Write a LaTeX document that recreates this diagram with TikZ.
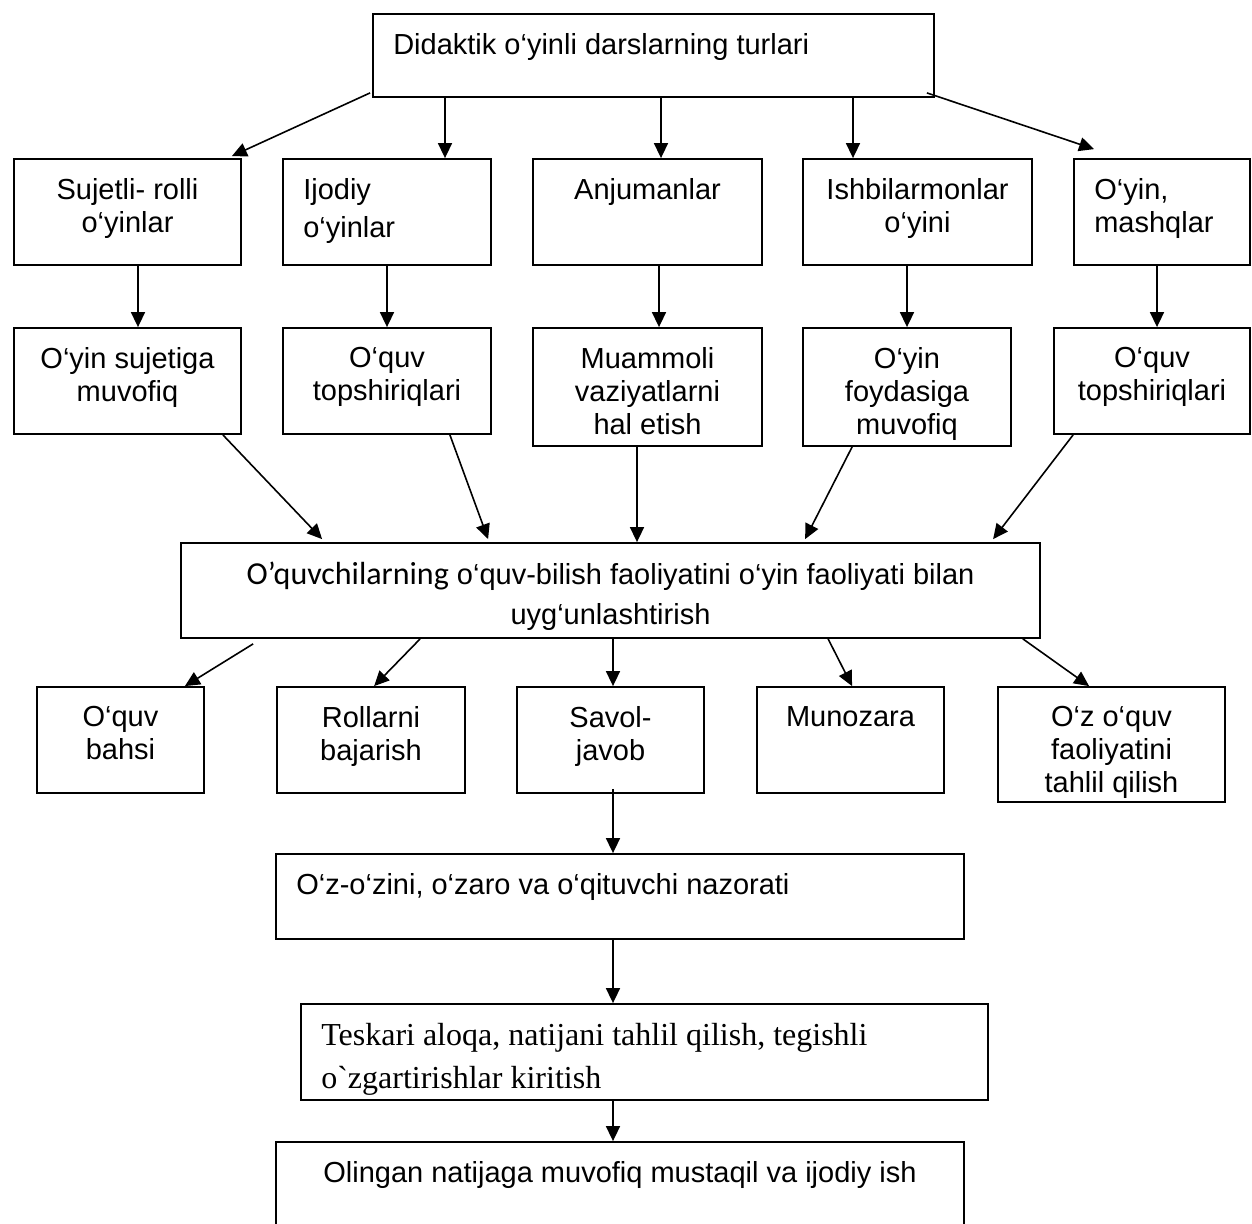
\documentclass[tikz,border=0pt]{standalone}
\usepackage{fontspec}
\setmainfont{Liberation Sans}
\newfontfamily\timesfont{Liberation Serif}[Ligatures=TeXOff]
\newfontfamily\calfont{Carlito}
\usetikzlibrary{arrows.meta,positioning}

\tikzset{
  box/.style={draw, line width=1.8pt, inner sep=0pt},
  arr/.style={-{Triangle[length=15pt,width=14pt]}, line width=1.6pt},
  ct/.style={anchor=north, align=center, inner sep=0pt, yshift=-20pt},
  lt/.style={anchor=north west, align=left, inner sep=0pt, xshift=21pt, yshift=-20pt},
}

\begin{document}
\begin{tikzpicture}[x=1pt, y=-1pt, font=\fontsize{29}{33}\selectfont]
    \useasboundingbox (0,0) rectangle (1252,1223);

    % top
    \node[box, minimum width=561pt, minimum height=83pt, label={[lt]north west:Didaktik o‘yinli darslarning turlari}] (root) at (653.5,55.5) {};

    % types of lessons
    \node[box, minimum width=227pt, minimum height=106pt, label={[ct]north:{Sujetli- rolli\\o‘yinlar}}] (t1) at (127.5,212) {};
    \node[box, minimum width=208pt, minimum height=106pt, label={[lt]north west:{Ijodiy\\[5pt]o‘yinlar}}] (t2) at (387,212) {};
    \node[box, minimum width=229pt, minimum height=106pt, label={[ct]north:Anjumanlar}] (t3) at (647.5,212) {};
    \node[box, minimum width=229pt, minimum height=106pt, label={[ct]north:{Ishbilarmonlar\\o‘yini}}] (t4) at (917.5,212) {};
    \node[box, minimum width=176pt, minimum height=106pt, label={[lt]north west:{O‘yin,\\mashqlar}}] (t5) at (1162,212) {};

    \node[box, minimum width=227pt, minimum height=106pt, label={[ct]north:{O‘yin sujetiga\\muvofiq}}] (g1) at (127.5,381) {};
    \node[box, minimum width=208pt, minimum height=106pt, label={[ct]north:{O‘quv\\topshiriqlari}}] (g2) at (387,381) {};
    \node[box, minimum width=229pt, minimum height=118pt, label={[ct]north:{Muammoli\\vaziyatlarni\\hal etish}}] (g3) at (647.5,387) {};
    \node[box, minimum width=208pt, minimum height=118pt, label={[ct]north:{O‘yin\\foydasiga\\muvofiq}}] (g4) at (907,387) {};
    \node[box, minimum width=196pt, minimum height=106pt, label={[ct]north:{O‘quv\\topshiriqlari}}] (g5) at (1152,381) {};

    % middle
    \node[box, minimum width=859pt, minimum height=95pt, label={[ct]north:{{\calfont\fontsize{32}{40}\selectfont O’quvchilarning} o‘quv-bilish faoliyatini o‘yin faoliyati bilan\\[7pt]uyg‘unlashtirish}}] (mid) at (610.5,590.5) {};

    % forms
    \node[box, minimum width=167pt, minimum height=106pt, label={[ct]north:{O‘quv\\bahsi}}] (f1) at (120.5,740) {};
    \node[box, minimum width=188pt, minimum height=106pt, label={[ct]north:{Rollarni\\bajarish}}] (f2) at (371,740) {};
    \node[box, minimum width=187pt, minimum height=106pt, label={[ct]north:{Savol-\\javob}}] (f3) at (610.5,740) {};
    \node[box, minimum width=187pt, minimum height=106pt, label={[ct]north:Munozara}] (f4) at (850.5,740) {};
    \node[box, minimum width=227pt, minimum height=115pt, label={[ct]north:{O‘z o‘quv\\faoliyatini\\tahlil qilish}}] (f5) at (1111.5,744.5) {};

    % chain
    \node[box, minimum width=688pt, minimum height=85pt, label={[lt]north west:O‘z-o‘zini, o‘zaro va o‘qituvchi nazorati}] (ctrl) at (620,896.5) {};
    \node[box, minimum width=687pt, minimum height=96pt, label={[lt, font=\timesfont\fontsize{32}{43}\selectfont]north west:{Teskari aloqa, natijani tahlil qilish, tegishli\\o`zgartirishlar kiritish}}] (fb) at (644.5,1052) {};
    \node[box, minimum width=688pt, minimum height=100pt, label={[ct]north:Olingan natijaga muvofiq mustaqil va ijodiy ish}] (res) at (620,1192) {};

    \draw[arr] ([shift={(-2,-5)}]root.south west) -- ([shift={(-10,-2)}]t1.north east);
    \draw[arr] ([xshift=58pt]t2.north |- root.south) -- ([xshift=58pt]t2.north);
    \draw[arr] ([xshift=13.5pt]t3.north |- root.south) -- ([xshift=13.5pt]t3.north);
    \draw[arr] ([xshift=-64.5pt]t4.north |- root.south) -- ([xshift=-64.5pt]t4.north);
    \draw[arr] ([shift={(-8,-5)}]root.south east) -- ([shift={(21,-9)}]t5.north west);

    \draw[arr] ([xshift=10.5pt]t1.south) -- ([xshift=10.5pt]g1.north);
    \draw[arr] (t2) -- (g2);
    \draw[arr] ([xshift=11.5pt]t3.south) -- ([xshift=11.5pt]g3.north);
    \draw[arr] (g4.north |- t4.south) -- (g4.north);
    \draw[arr] ([xshift=5pt]g5.north |- t5.south) -- ([xshift=5pt]g5.north);

    \draw[arr] ([xshift=-19pt]g1.south east) -- ([shift={(142,-3)}]mid.north west);
    \draw[arr] ([xshift=-42pt]g2.south east) -- ([shift={(308,-3)}]mid.north west);
    \draw[arr] ([xshift=-10.5pt]g3.south) -- ([xshift=-10.5pt]g3.south |- mid.north);
    \draw[arr] ([xshift=50pt]g4.south west) -- ([shift={(625,-3)}]mid.north west);
    \draw[arr] ([xshift=20pt]g5.south west) -- ([shift={(813,-3)}]mid.north west);

    \draw[arr] ([shift={(73,5)}]mid.south west) -- ([xshift=-20pt]f1.north east);
    \draw[arr] ([xshift=240pt]mid.south west) -- ([xshift=98pt]f2.north west);
    \draw[arr] ([xshift=2.5pt]f3.north |- mid.south) -- ([xshift=2.5pt]f3.north);
    \draw[arr] ([xshift=648pt]mid.south west) -- ([xshift=96pt]f4.north west);
    \draw[arr] ([xshift=-18pt]mid.south east) -- ([xshift=92pt]f5.north west);

    \draw[arr] ([shift={(2.5,-5)}]f3.south) -- ([xshift=2.5pt]f3.south |- ctrl.north);
    \draw[arr] ([xshift=-7pt]ctrl.south) -- ([xshift=-7pt]ctrl.south |- fb.north);
    \draw[arr] ([xshift=-31.5pt]fb.south) -- ([xshift=-31.5pt]fb.south |- res.north);
\end{tikzpicture}
\end{document}
